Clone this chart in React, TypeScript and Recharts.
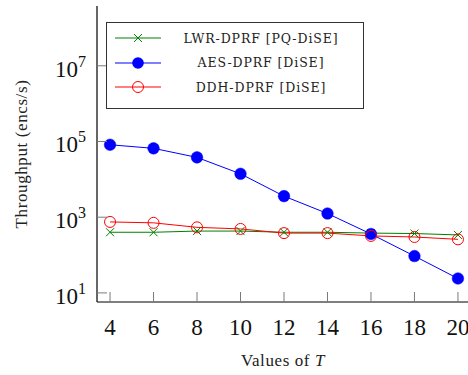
import React from 'react';
import { LineChart, Line, XAxis, YAxis, Legend } from 'recharts';

const tValues = [4, 6, 8, 10, 12, 14, 16, 18, 20];
const lwrDprf = [400, 400, 430, 430, 400, 400, 380, 370, 340];
const aesDprf = [82000, 66000, 38000, 14000, 3600, 1250, 360, 94, 24];
const ddhDprf = [750, 710, 540, 490, 380, 380, 320, 300, 260];
const xTicks = [4, 6, 8, 10, 12, 14, 16, 18, 20];
const yTicks = [10, 1000, 100000, 10000000];
const seriesNames = ['LWR-DPRF [PQ-DiSE]', 'AES-DPRF [DiSE]', 'DDH-DPRF [DiSE]'];
const seriesKeys = ['lwr', 'aes', 'ddh'];
const seriesColors = ['#008000', '#0000ff', '#ff0000'];

const data = tValues.map((t, i) => ({ t, lwr: lwrDprf[i], aes: aesDprf[i], ddh: ddhDprf[i] }));

const SERIF = '"Liberation Serif", "DejaVu Serif", serif';
const LEGEND_FONT = '"DejaVu Serif", "Liberation Serif", serif';
const TICK_COLOR = '#7a7a7a';
const TICK_LEN = 10;

const XTickBottom = (props: any) => {
  const { x, y, payload } = props;
  return (
    <g>
      <line x1={x} x2={x} y1={y} y2={y - TICK_LEN} stroke={TICK_COLOR} strokeWidth={1} />
      <text x={x} y={y + 33} textAnchor="middle" fontSize={23} fontFamily={SERIF} fill="#111">
        {payload.value}
      </text>
    </g>
  );
};

const XTickTop = (props: any) => {
  const { x, y } = props;
  return <line x1={x} x2={x} y1={y} y2={y + TICK_LEN} stroke={TICK_COLOR} strokeWidth={1} />;
};

const YTickLeft = (props: any) => {
  const { x, y, payload } = props;
  const exp = Math.round(Math.log10(payload.value));
  return (
    <g>
      <line x1={x} x2={x + TICK_LEN} y1={y} y2={y} stroke={TICK_COLOR} strokeWidth={1} />
      <text x={x - 11} y={y + 11} textAnchor="end" fontSize={23} fontFamily={SERIF} fill="#111">
        <tspan>10</tspan>
        <tspan dy={-10} fontSize={16}>{exp}</tspan>
      </text>
    </g>
  );
};

const YTickRight = (props: any) => {
  const { x, y } = props;
  return <line x1={x} x2={x - TICK_LEN} y1={y} y2={y} stroke={TICK_COLOR} strokeWidth={1} />;
};

const CrossDot = (props: any) => {
  const { cx, cy, stroke } = props;
  if (cx == null || cy == null) return null;
  const s = 4;
  return (
    <g>
      <line x1={cx - s} y1={cy - s} x2={cx + s} y2={cy + s} stroke={stroke} strokeWidth={1} />
      <line x1={cx - s} y1={cy + s} x2={cx + s} y2={cy - s} stroke={stroke} strokeWidth={1} />
    </g>
  );
};

const FilledDot = (props: any) => {
  const { cx, cy, stroke } = props;
  if (cx == null || cy == null) return null;
  return <circle cx={cx} cy={cy} r={5.8} fill={stroke} stroke={stroke} strokeWidth={0.5} />;
};

const OpenDot = (props: any) => {
  const { cx, cy, stroke } = props;
  if (cx == null || cy == null) return null;
  return <circle cx={cx} cy={cy} r={5.5} fill="none" stroke={stroke} strokeWidth={1} />;
};

const legendMarker = (i: number, color: string) => {
  const cx = 31;
  const cy = 12;
  if (i === 0)
    return (
      <g>
        <line x1={cx - 4} y1={cy - 4} x2={cx + 4} y2={cy + 4} stroke={color} />
        <line x1={cx - 4} y1={cy + 4} x2={cx + 4} y2={cy - 4} stroke={color} />
      </g>
    );
  if (i === 1) return <circle cx={cx} cy={cy} r={5.8} fill={color} />;
  return <circle cx={cx} cy={cy} r={5.5} fill="none" stroke={color} />;
};

const LegendContent = () => (
  <div
    style={{
      border: '1px solid #333',
      background: '#fff',
      width: 256,
      height: 82,
      boxSizing: 'content-box',
      paddingTop: 3,
    }}
  >
    {seriesNames.map((name, i) => (
      <div key={name} style={{ display: 'flex', alignItems: 'center', height: 24.5 }}>
        <svg width={58} height={24} style={{ display: 'block' }}>
          <line x1={8} x2={54} y1={12} y2={12} stroke={seriesColors[i]} strokeWidth={1} />
          {legendMarker(i, seriesColors[i])}
        </svg>
        <div
          style={{
            flex: 1,
            textAlign: 'center',
            fontFamily: LEGEND_FONT,
            fontSize: 12.5,
            letterSpacing: 0.9,
            color: '#222',
            paddingRight: 6,
            whiteSpace: 'nowrap',
          }}
        >
          {name}
        </div>
      </div>
    ))}
  </div>
);

export default function App() {
  return (
    <div style={{ position: 'absolute', left: 0, top: 0, width: 468, height: 375, overflow: 'hidden', background: '#fff' }}>
      <LineChart width={471} height={375} data={data} margin={{ top: 6, right: 0, left: 0, bottom: 0 }}>
        <XAxis
          dataKey="t"
          type="number"
          domain={[3.4, 20.6]}
          ticks={xTicks}
          allowDataOverflow
          height={73}
          tickSize={0}
          tickMargin={0}
          tickLine={false}
          axisLine={{ stroke: '#000', strokeWidth: 1.2 }}
          tick={<XTickBottom />}
          interval={0}
          label={{
            content: () => (
              <text x={283} y={366} textAnchor="middle" fontSize={17} fontFamily={SERIF} fill="#222" letterSpacing={0.6}>
                Values of <tspan fontStyle="italic">T</tspan>
              </text>
            ),
          }}
        />
        <XAxis
          xAxisId="top"
          orientation="top"
          dataKey="t"
          type="number"
          domain={[3.4, 20.6]}
          ticks={xTicks}
          allowDataOverflow
          height={0}
          tickSize={0}
          tickMargin={0}
          tickLine={false}
          axisLine={{ stroke: '#000', strokeWidth: 1.2 }}
          tick={<XTickTop />}
          interval={0}
        />
        <YAxis
          yAxisId="left"
          scale="log"
          type="number"
          domain={[5.75, 380000000]}
          ticks={yTicks}
          allowDataOverflow
          width={97}
          tickSize={0}
          tickMargin={0}
          tickLine={false}
          axisLine={{ stroke: '#000', strokeWidth: 1.2 }}
          tick={<YTickLeft />}
          interval={0}
          label={{
            content: () => (
              <text
                transform="translate(27,154) rotate(-90)"
                x={0}
                y={0}
                textAnchor="middle"
                fontSize={17}
                fontFamily={SERIF}
                fill="#222"
                letterSpacing={0.6}
              >
                Throughput (encs/s)
              </text>
            ),
          }}
        />
        <YAxis
          yAxisId="right"
          orientation="right"
          scale="log"
          type="number"
          domain={[5.75, 380000000]}
          ticks={yTicks}
          allowDataOverflow
          width={0}
          tickSize={0}
          tickMargin={0}
          tickLine={false}
          axisLine={{ stroke: '#000', strokeWidth: 1.2 }}
          tick={<YTickRight />}
          interval={0}
        />
        <Legend
          layout="vertical"
          align="center"
          verticalAlign="middle"
          content={<LegendContent />}
          wrapperStyle={{ position: 'absolute', left: 106, top: 22, width: 258, height: 86 }}
        />
        <Line
          yAxisId="left"
          dataKey={seriesKeys[0]}
          name={seriesNames[0]}
          stroke={seriesColors[0]}
          strokeWidth={1}
          dot={<CrossDot />}
          activeDot={false}
          isAnimationActive={false}
        />
        <Line
          yAxisId="left"
          dataKey={seriesKeys[1]}
          name={seriesNames[1]}
          stroke={seriesColors[1]}
          strokeWidth={1}
          dot={<FilledDot />}
          activeDot={false}
          isAnimationActive={false}
        />
        <Line
          yAxisId="left"
          dataKey={seriesKeys[2]}
          name={seriesNames[2]}
          stroke={seriesColors[2]}
          strokeWidth={1}
          dot={<OpenDot />}
          activeDot={false}
          isAnimationActive={false}
        />
      </LineChart>
    </div>
  );
}
